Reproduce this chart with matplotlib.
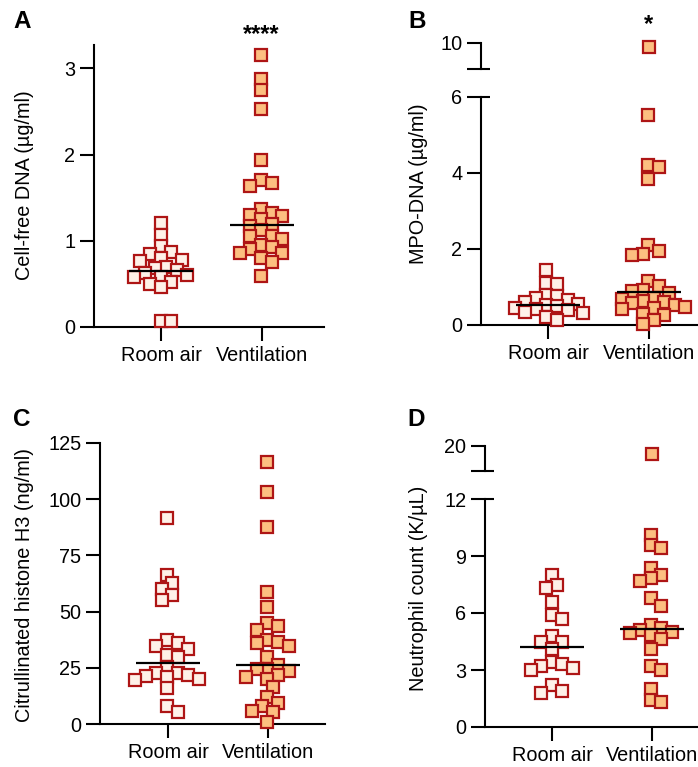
import numpy as np
import matplotlib
matplotlib.use("Agg")
import matplotlib.pyplot as plt

plt.rcParams['font.family'] = ['Liberation Sans', 'DejaVu Sans']

# ---------------- data ----------------
groups = ["Room air", "Ventilation"]

A_room = [1.21, 1.07, 0.94, 0.87, 0.85, 0.80, 0.78, 0.76, 0.69, 0.68, 0.66, 0.63,
          0.60, 0.58, 0.58, 0.52, 0.50, 0.46, 0.07, 0.07]
A_vent = [3.15, 2.88, 2.75, 2.53, 1.94, 1.70, 1.67, 1.63, 1.37, 1.32, 1.30, 1.29,
          1.25, 1.20, 1.17, 1.12, 1.05, 1.05, 1.02, 0.95, 0.93, 0.91, 0.86, 0.86,
          0.80, 0.75, 0.59]
A_lines = [0.65, 1.18]

B_room = [1.45, 1.10, 1.08, 0.80, 0.76, 0.70, 0.66, 0.61, 0.55, 0.53, 0.50, 0.45,
          0.42, 0.39, 0.35, 0.32, 0.22, 0.13]
B_vent = [9.85, 5.53, 4.21, 4.15, 3.83, 2.10, 1.96, 1.88, 1.84, 1.16, 1.02, 0.92,
          0.89, 0.83, 0.71, 0.68, 0.64, 0.61, 0.58, 0.53, 0.48, 0.45, 0.42, 0.30,
          0.26, 0.12, 0.02]
B_lines = [0.53, 0.88]

C_room = [91.5, 66.5, 62.6, 60.0, 57.4, 55.2, 37.4, 36.0, 34.8, 33.2, 30.7, 30.0,
          25.5, 22.8, 22.5, 21.8, 21.4, 21.0, 20.2, 19.6, 16.0, 8.0, 5.5]
C_vent = [116.7, 103.3, 87.5, 58.5, 51.9, 44.8, 43.6, 41.8, 37.4, 36.6, 36.2, 34.7,
          29.7, 26.2, 24.3, 24.3, 23.7, 21.8, 20.8, 19.9, 16.3, 11.9, 9.2, 8.0,
          5.9, 5.5, 1.0]
C_lines = [27.3, 26.2]

D_room = [8.0, 7.5, 7.3, 6.6, 5.9, 5.7, 4.8, 4.45, 4.45, 4.1, 3.4, 3.3, 3.2, 3.1,
          3.0, 2.2, 1.9, 1.8]
D_vent = [19.4, 10.1, 9.58, 9.4, 8.37, 8.0, 7.83, 7.7, 6.8, 6.38, 5.35, 5.2, 5.1,
          5.0, 4.95, 4.84, 4.62, 4.09, 3.2, 3.0, 2.0, 1.4, 1.3]
D_lines = [4.23, 5.14]

A_ticks = [0, 1, 2, 3]
B_ticks = [0, 2, 4, 6]
B_upper_ticks = [9, 10]
C_ticks = [0, 25, 50, 75, 100, 125]
D_ticks = [0, 3, 6, 9, 12]
D_upper_ticks = [18, 20]

# ---------------- style ----------------
W, H = 698, 767
EDGE = '#AE1515'
FILLS = ['#FEF1E8', '#FCBF80']
FS = 14.3
MS = 8.2
MEW = 1.6
LW = 1.5

fig = plt.figure(figsize=(W / 100, H / 100), dpi=100)


def add_ax(left, top, right, bottom):
    return fig.add_axes([left / W, 1 - bottom / H, (right - left) / W, (bottom - top) / H])


def style(ax, xaxis=True):
    for s in ['top', 'right']:
        ax.spines[s].set_visible(False)
    ax.spines['left'].set_linewidth(LW)
    ax.spines['bottom'].set_linewidth(LW)
    ax.tick_params(axis='y', length=10, width=LW, pad=3.5, labelsize=FS, direction='out')
    ax.tick_params(axis='x', length=10, width=LW, pad=3.5, labelsize=FS, direction='out')
    if not xaxis:
        ax.spines['bottom'].set_visible(False)
        ax.tick_params(axis='x', bottom=False, labelbottom=False)
    ax.patch.set_alpha(0)


def swarm(ax, xc, vals, step=5.3, dmin=9.6):
    vals = np.asarray(vals, float)
    if len(vals) == 0:
        return np.array([])
    tr = ax.transData
    ys = tr.transform(np.column_stack([np.full(len(vals), xc), vals]))[:, 1]
    pxx = tr.transform((1, 0))[0] - tr.transform((0, 0))[0]
    order = np.argsort(-ys, kind='stable')
    placed = []
    offs = np.zeros(len(vals))
    cands = [0]
    for k in range(1, 30):
        cands += [k, -k]
    for i in order:
        for k in cands:
            dx = k * step
            if all(np.hypot(dx - px, ys[i] - py) >= dmin for px, py in placed):
                break
        offs[i] = dx
        placed.append((dx, ys[i]))
    offs -= offs.mean() * 0.5
    return xc + offs / pxx


def plot_group(ax, xc, vals, fill):
    xs = swarm(ax, xc, vals)
    ax.plot(xs, vals, linestyle='none', marker='s', ms=MS, mew=MEW, mec=EDGE,
            mfc=fill, clip_on=False, zorder=3)


def median_line(ax, xc, v):
    ax.plot([xc - 0.32, xc + 0.32], [v, v], color='black', lw=1.6, zorder=4,
            solid_capstyle='butt')


def xlim_from(L, c0, c1, R):
    return ((L - c0) / (c1 - c0), (R - c0) / (c1 - c0))


def break_mark(ax, y_frac, px_right=9):
    w = ax.get_window_extent().width
    ax.plot([0, px_right / w], [y_frac, y_frac], transform=ax.transAxes,
            color='black', lw=LW, clip_on=False, solid_capstyle='butt')


def panel(L, top, bottom, c0, c1, R, ylim, ticks, data, lines, upper=None):
    ax = add_ax(L, top, R, bottom)
    ax.set_xlim(*xlim_from(L, c0, c1, R))
    ax.set_ylim(*ylim)
    style(ax)
    ax.set_yticks(ticks)
    ax.set_yticklabels([str(t) for t in ticks])
    ax.set_xticks([0, 1])
    ax.set_xticklabels(groups)
    axu = None
    if upper is not None:
        utop, ubottom, ulim, uticks = upper
        axu = add_ax(L, utop, R, ubottom)
        axu.set_xlim(*xlim_from(L, c0, c1, R))
        axu.set_ylim(*ulim)
        style(axu, xaxis=False)
        axu.set_yticks(uticks)
        axu.set_yticklabels([''] + [str(t) for t in uticks[1:]])
        break_mark(ax, 1.0)
        break_mark(axu, 0.0)
    for i, vals in enumerate(data):
        vals = np.asarray(vals, float)
        if axu is not None:
            lo = vals[vals <= ylim[1]]
            hi = vals[vals > ylim[1]]
            plot_group(ax, i, lo, FILLS[i])
            if len(hi):
                plot_group(axu, i, hi, FILLS[i])
        else:
            plot_group(ax, i, vals, FILLS[i])
        median_line(ax, i, lines[i])
    return ax, axu


axA, _ = panel(94, 45, 327, 161, 262, 324, (0, 3.27), A_ticks, [A_room, A_vent], A_lines)
axB, axBu = panel(481, 97, 325, 548, 649, 711, (0, 6), B_ticks, [B_room, B_vent],
                  B_lines, upper=(43, 69, (9, 10), B_upper_ticks))
axC, _ = panel(100, 443, 724, 168, 268, 325, (0, 125), C_ticks, [C_room, C_vent], C_lines)
axD, axDu = panel(485, 499, 727, 552, 652, 715, (0, 12), D_ticks, [D_room, D_vent],
                  D_lines, upper=(446, 471, (18, 20), D_upper_ticks))


def ftext(x, y, s, **kw):
    fig.text(x / W, 1 - y / H, s, **kw)


ftext(25, 185, 'Cell-free DNA (µg/ml)', rotation=90, ha='center', va='center', fontsize=FS)
ftext(418, 184, 'MPO-DNA (µg/ml)', rotation=90, ha='center', va='center', fontsize=FS)
ftext(25, 585, 'Citrullinated histone H3 (ng/ml)', rotation=90, ha='center', va='center', fontsize=FS)
ftext(418, 588, 'Neutrophil count (K/µL)', rotation=90, ha='center', va='center', fontsize=FS)

for x, y, s in [(13, 22, 'A'), (408, 22, 'B'), (13, 420, 'C'), (407, 420, 'D')]:
    ftext(x, y, s, ha='left', va='center', fontsize=17.5, fontweight='bold')

ftext(261, 35, '****', ha='center', va='center', fontsize=17, fontweight='bold')
ftext(648, 25, '*', ha='center', va='center', fontsize=17, fontweight='bold')

fig.savefig('out.png', dpi=100)
